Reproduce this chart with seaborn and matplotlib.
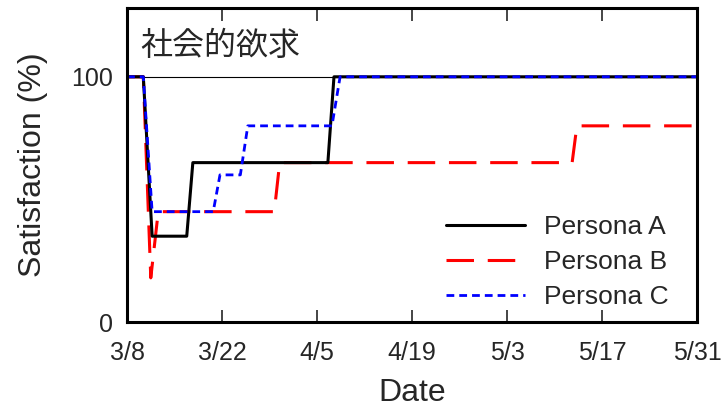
import numpy as np
import pandas as pd
import matplotlib
matplotlib.use('Agg')
import matplotlib.pyplot as plt
import seaborn as sns

# days counted from 3/8
tick_days = [0, 14, 28, 42, 56, 70, 84]
tick_labels = ['3/8', '3/22', '4/5', '4/19', '5/3', '5/17', '5/31']

a_days = [0, 2.4, 3.7, 8.8, 9.7, 29.6, 30.5, 84]
a_vals = [100, 100, 35, 35, 65, 65, 100, 100]

b_days = [0, 2.4, 3.5, 4.6, 21.7, 22.5, 65.6, 66.3, 84]
b_vals = [100, 100, 18, 45, 45, 65, 65, 80, 80]

c_days = [0, 2.4, 3.7, 12.7, 13.7, 16.7, 17.8, 30.2, 31.4, 84]
c_vals = [100, 100, 45, 45, 60, 60, 80, 80, 100, 100]

names = ['Persona A', 'Persona B', 'Persona C']
title = '社会的欲求'

sns.set_theme(style='ticks')
plt.rcParams['font.family'] = ['Liberation Sans', 'Noto Sans CJK JP']

fig, ax = plt.subplots(figsize=(7.23, 4.07), dpi=100)
fig.subplots_adjust(left=0.1757, right=0.964, bottom=0.2088, top=0.980)

ax.axhline(100, color='black', lw=0.8, zorder=1)

series = [
    (a_days, a_vals, 'black', '-', 2.2, 2.0),
    (b_days, b_vals, '#ff0000', (0, (9, 4.5)), 2.2, 1.9),
    (c_days, c_vals, '#0000ff', (0, (2.8, 1.8)), 2.0, 2.1),
]
for name, (d, v, col, ls, lw, z) in zip(names, series):
    df = pd.DataFrame({'day': d, 'val': v})
    sns.lineplot(data=df, x='day', y='val', color=col, linestyle=ls, lw=lw,
                 zorder=z, label=name, estimator=None, ax=ax)

ax.set_xlim(0, 84)
ax.set_ylim(0, 128)
ax.set_xticks(tick_days)
ax.set_xticklabels(tick_labels)
ax.set_yticks([0, 100])
ax.tick_params(axis='x', direction='in', top=True, length=9, width=1.2,
               labelsize=18, pad=14)
ax.tick_params(axis='y', direction='in', length=0, labelsize=18, pad=10)
for s in ax.spines.values():
    s.set_linewidth(2.2)
    s.set_color('black')

ax.set_xlabel('Date', fontsize=23, labelpad=9)
ax.set_ylabel('Satisfaction (%)', fontsize=23, labelpad=17)
ax.text(0.023, 0.88, title, transform=ax.transAxes, fontsize=23,
        family=['Noto Sans CJK JP'], va='center', ha='left')

ax.legend(loc='lower right', bbox_to_anchor=(0.95, 0.04), frameon=False,
          fontsize=19, handlelength=3.0, handletextpad=0.7, labelspacing=0.42,
          borderpad=0, borderaxespad=0)

fig.savefig('out.png', dpi=100)
